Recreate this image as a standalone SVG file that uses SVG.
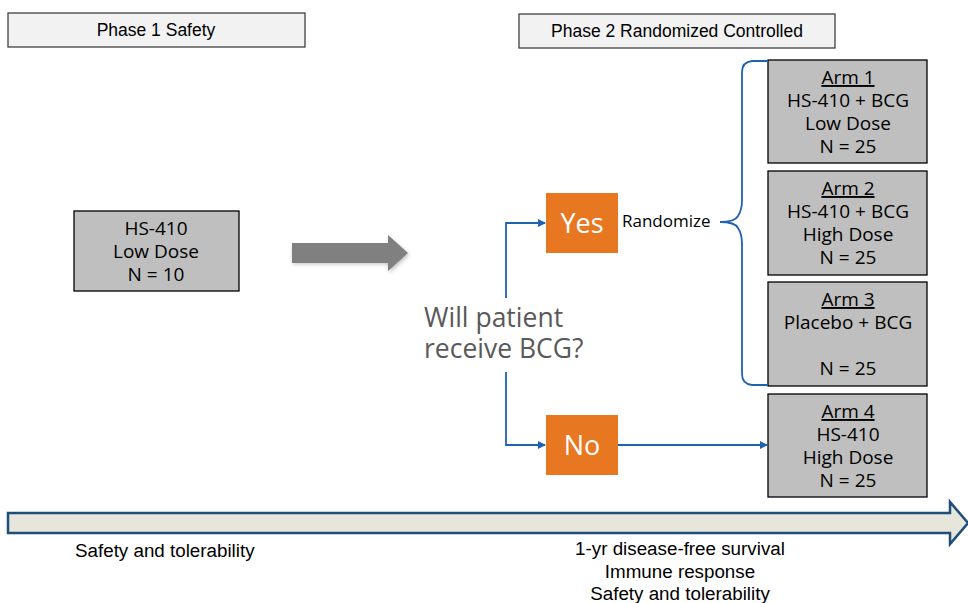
<svg xmlns="http://www.w3.org/2000/svg" width="968" height="603" viewBox="0 0 968 603">
<style>
.hdr{fill:#f2f2f2;stroke:#404040;stroke-width:1.3}
.hdrt{font-family:"Liberation Sans",Arial,sans-serif;font-size:17.5px;fill:#000;text-anchor:middle}
.gbox{fill:#bfbfbf;stroke:#000;stroke-width:1.3}
.bt{font-family:"Open Sans","Noto Sans",sans-serif;font-size:19px;fill:#000;text-anchor:middle}
.ob{fill:#e87722}
.ot{font-family:"Open Sans","Noto Sans",sans-serif;font-size:27px;fill:#fff;text-anchor:middle}
.conn{fill:none;stroke:#1f63b0;stroke-width:1.8}
.bot{font-family:"Liberation Sans",Arial,sans-serif;font-size:18.8px;fill:#000}
</style>
<defs>
<marker id="ah" markerWidth="8" markerHeight="8" refX="7" refY="4" orient="auto" markerUnits="userSpaceOnUse">
<path d="M0,0 L8,4 L0,8 Z" fill="#1f63b0"/>
</marker>
<filter id="sh" x="-20%" y="-40%" width="140%" height="180%"><feGaussianBlur stdDeviation="2"/></filter>
</defs>
<rect width="968" height="603" fill="#fff"/>
<g id="phase1"><rect class="hdr" x="8" y="13" width="297" height="34"/><text class="hdrt" x="156" y="36">Phase 1 Safety</text></g>
<g id="phase2"><rect class="hdr" x="519" y="14" width="316" height="34"/><text class="hdrt" x="677" y="37">Phase 2 Randomized Controlled</text></g>
<g id="hs410"><rect class="gbox" x="74" y="211" width="165" height="80"/>
<text class="bt" x="156" y="235">HS-410</text><text class="bt" x="156" y="258">Low Dose</text><text class="bt" x="156" y="281">N = 10</text></g>
<g id="bigarrow">
<path d="M292,244 H388 V235 L408,253 L388,271 V262 H292 Z" fill="#000" opacity="0.25" filter="url(#sh)" transform="translate(1,2)"/>
<path d="M292,243 H388 V235 L408,253 L388,271 V263 H292 Z" fill="#808080"/>
</g>
<g id="question"><text font-family="'Open Sans','Noto Sans',sans-serif" font-size="26.5" fill="#595959" x="424" y="327">Will patient</text><text font-family="'Open Sans','Noto Sans',sans-serif" font-size="26.5" fill="#595959" x="424" y="358">receive BCG?</text></g>
<g id="yes"><rect class="ob" x="546" y="193" width="72" height="60"/><text class="ot" x="582" y="233">Yes</text></g>
<g id="no"><rect class="ob" x="546" y="415" width="72" height="60"/><text class="ot" x="582" y="455">No</text></g>
<g id="randomize"><text font-family="'Open Sans','Noto Sans',sans-serif" font-size="17" fill="#000" x="622" y="227">Randomize</text></g>
<g id="arm1"><rect class="gbox" x="768" y="60" width="159" height="103"/>
<text class="bt" x="848" y="84" text-decoration="underline">Arm 1</text><text class="bt" x="848" y="107">HS-410 + BCG</text><text class="bt" x="848" y="130">Low Dose</text><text class="bt" x="848" y="153">N = 25</text></g>
<g id="arm2"><rect class="gbox" x="768" y="171" width="159" height="104"/>
<text class="bt" x="848" y="195" text-decoration="underline">Arm 2</text><text class="bt" x="848" y="218">HS-410 + BCG</text><text class="bt" x="848" y="241">High Dose</text><text class="bt" x="848" y="264">N = 25</text></g>
<g id="arm3"><rect class="gbox" x="768" y="282" width="159" height="104"/>
<text class="bt" x="848" y="306" text-decoration="underline">Arm 3</text><text class="bt" x="848" y="329">Placebo + BCG</text><text class="bt" x="848" y="375">N = 25</text></g>
<g id="arm4"><rect class="gbox" x="768" y="394" width="159" height="103"/>
<text class="bt" x="848" y="418" text-decoration="underline">Arm 4</text><text class="bt" x="848" y="441">HS-410</text><text class="bt" x="848" y="464">High Dose</text><text class="bt" x="848" y="487">N = 25</text></g>
<g id="connectors">
<path class="conn" d="M506,298 V223 H545" marker-end="url(#ah)"/>
<path class="conn" d="M506,372 V445 H545" marker-end="url(#ah)"/>
<path class="conn" d="M618,445 H767" marker-end="url(#ah)"/>
<path class="conn" d="M720,222 Q735,222 738,216 Q742,210 742,200 V72 Q742,62 752,61 H768 M720,222 Q735,222 738,228 Q742,234 742,244 V374 Q742,384 752,385 H768"/>
</g>
<g id="timeline">
<path d="M8,513 H950 V502 L968,523 L950,544 V533 H8 Z" fill="#e6e6dc" stroke="#1f4e79" stroke-width="2.5"/>
</g>
<g id="outcomes">
<text class="bot" x="75" y="557">Safety and tolerability</text>
<text class="bot" x="680" y="555" text-anchor="middle">1-yr disease-free survival</text>
<text class="bot" x="680" y="578" text-anchor="middle">Immune response</text>
<text class="bot" x="680" y="600" text-anchor="middle">Safety and tolerability</text>
</g>
</svg>
